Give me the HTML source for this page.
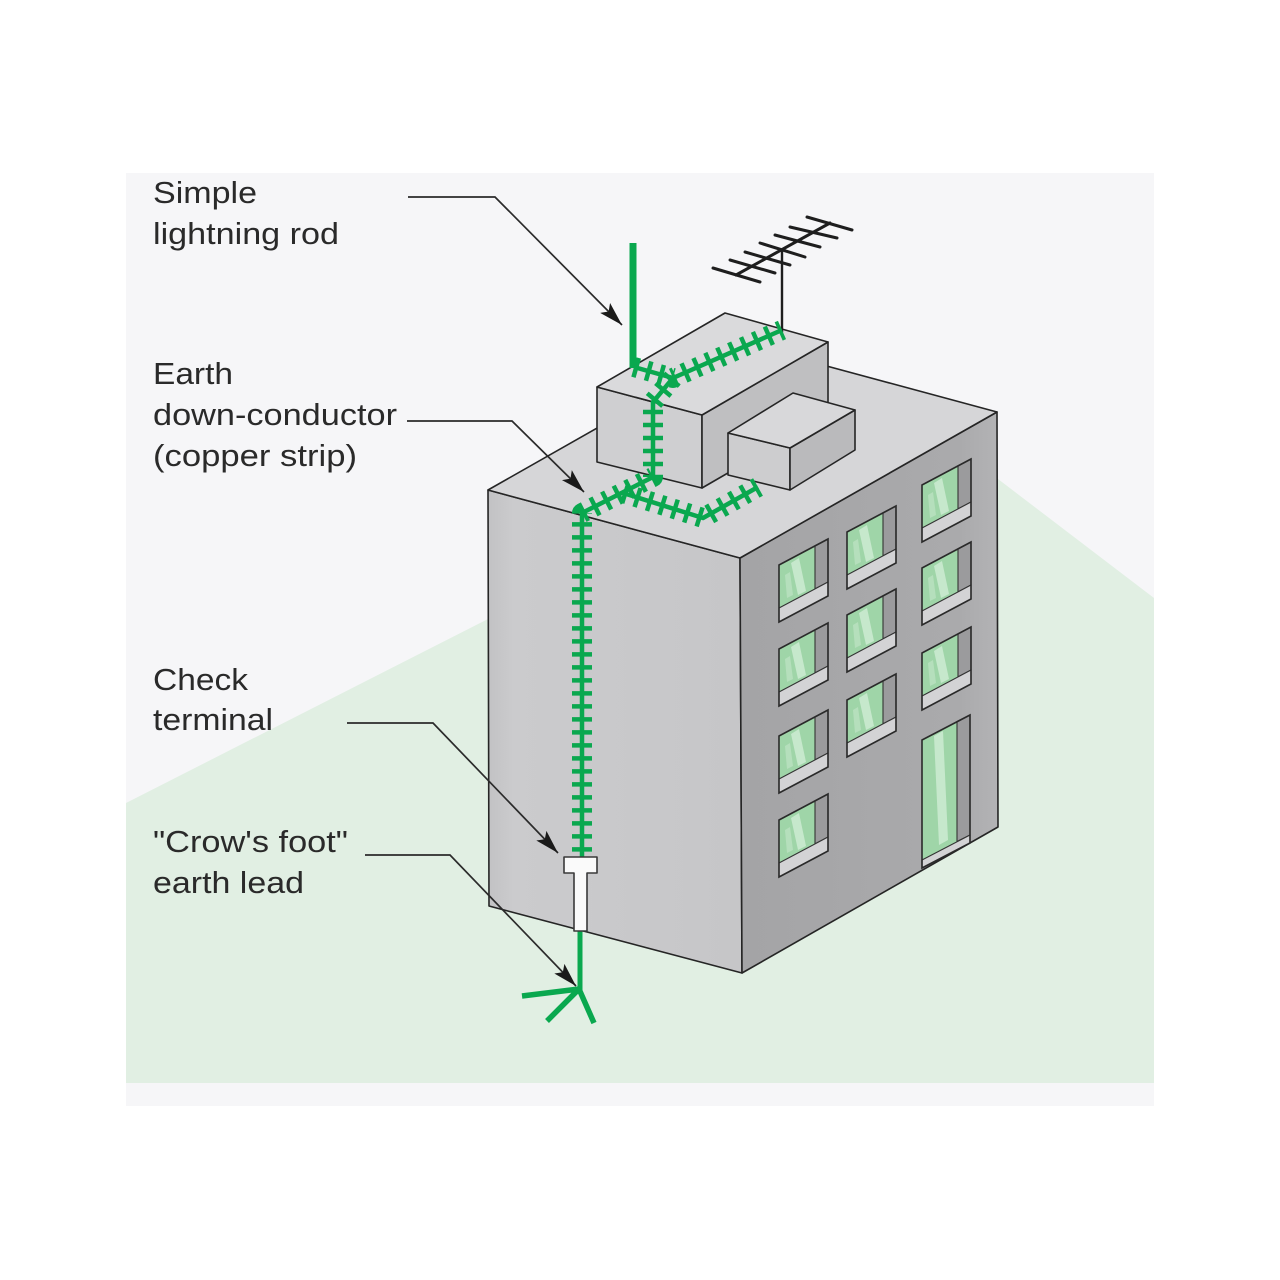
<!DOCTYPE html>
<html><head><meta charset="utf-8"><style>
html,body{margin:0;padding:0;background:#fff;}
svg{display:block;}
</style></head><body>
<svg width="1280" height="1280" viewBox="0 0 1280 1280" xmlns="http://www.w3.org/2000/svg">
<defs>
<linearGradient id="gl" x1="0" y1="0" x2="1" y2="0">
<stop offset="0" stop-color="#c2c2c4"/><stop offset="0.1" stop-color="#cbcbcd"/><stop offset="1" stop-color="#c6c6c8"/>
</linearGradient>
<linearGradient id="gr" x1="0" y1="0" x2="1" y2="0">
<stop offset="0" stop-color="#a4a4a6"/><stop offset="0.85" stop-color="#aaaaac"/><stop offset="1" stop-color="#b3b3b5"/>
</linearGradient>
<g id="win">
<polygon points="0,0 49,-26 49,31 0,57" fill="#a9a9ab"/>
<polygon points="0,0 36,-19.1 36,23.9 0,43" fill="#9fd5a8"/>
<polygon points="12,-2 20,-7 27,26 19,30" fill="#cdebd2" opacity="0.85"/>
<polygon points="6,10 11,7 14,30 8,33" fill="#c4e6ca" opacity="0.6"/>
<polygon points="36,-19.1 49,-26 49,17 36,23.9" fill="#9b9b9d" stroke="#333" stroke-width="1.1"/>
<polygon points="0,43 49,17 49,31 0,57" fill="#d3d3d5" stroke="#333" stroke-width="1.1"/>
<polygon points="0,0 49,-26 49,31 0,57" fill="none" stroke="#2a2a2a" stroke-width="1.6"/>
</g>
<marker id="ah" markerWidth="26" markerHeight="16" refX="24" refY="8" orient="auto" markerUnits="userSpaceOnUse">
<path d="M0,1 L24,8 L0,15 L5,8 z" fill="#1a1a1a"/>
</marker>
</defs>

<!-- background panel -->
<rect x="126" y="173" width="1028" height="933" fill="#f6f6f8"/>
<polygon points="126,803 488,619 998,479 1154,598 1154,1083 126,1083" fill="#e1efe3"/>

<!-- building -->
<polygon points="488,490 740,558 742,973 489,906" fill="url(#gl)" stroke="#252525" stroke-width="1.6" stroke-linejoin="round"/>
<polygon points="740,558 997,412 998,827 742,973" fill="url(#gr)" stroke="#252525" stroke-width="1.6" stroke-linejoin="round"/>
<polygon points="488,490 745,344 997,412 740,558" fill="#d6d6d8" stroke="#252525" stroke-width="1.6" stroke-linejoin="round"/>

<!-- penthouse big -->
<polygon points="597,387 702,415 702,488 597,462" fill="#cfcfd1" stroke="#252525" stroke-width="1.6" stroke-linejoin="round"/>
<polygon points="702,415 828,342 828,415 702,488" fill="#bfbfc1" stroke="#252525" stroke-width="1.6" stroke-linejoin="round"/>
<polygon points="597,387 725,313 828,342 702,415" fill="#dadadc" stroke="#252525" stroke-width="1.6" stroke-linejoin="round"/>
<!-- small box -->
<polygon points="728,433 790,448 790,490 728,475" fill="#cdcdcf" stroke="#252525" stroke-width="1.6" stroke-linejoin="round"/>
<polygon points="790,448 855,410 855,450 790,490" fill="#bababc" stroke="#252525" stroke-width="1.6" stroke-linejoin="round"/>
<polygon points="728,433 793,393 855,410 790,448" fill="#d8d8da" stroke="#252525" stroke-width="1.6" stroke-linejoin="round"/>

<!-- windows -->
<use href="#win" x="779" y="565"/>
<use href="#win" x="779" y="649"/>
<use href="#win" x="779" y="736"/>
<use href="#win" x="779" y="820"/>
<use href="#win" x="847" y="532"/>
<use href="#win" x="847" y="615"/>
<use href="#win" x="847" y="700"/>
<use href="#win" x="922" y="485"/>
<use href="#win" x="922" y="568"/>
<use href="#win" x="922" y="653"/>
<!-- door -->
<g transform="translate(922,740)">
<polygon points="0,0 48,-25 48,103 0,128" fill="#a9a9ab"/>
<polygon points="0,0 35,-18.5 35,101.5 0,120" fill="#9fd5a8"/>
<polygon points="12,-4 21,-9 26,100 17,105" fill="#cdebd2" opacity="0.85"/>
<polygon points="35,-18.5 48,-25 48,95 35,101.5" fill="#9b9b9d" stroke="#333" stroke-width="1.1"/>
<polygon points="0,120 48,95 48,103 0,128" fill="#d3d3d5" stroke="#333" stroke-width="1.1"/>
<polygon points="0,0 48,-25 48,103 0,128" fill="none" stroke="#2a2a2a" stroke-width="1.6"/>
</g>

<!-- antenna -->
<g stroke="#1e1e1e" stroke-width="3" stroke-linecap="round">
<line x1="782" y1="252" x2="782" y2="332" stroke-width="2.4"/>
<line x1="736" y1="275" x2="830" y2="223"/>
<line x1="713" y1="268" x2="760" y2="282"/>
<line x1="730" y1="260" x2="775" y2="273"/>
<line x1="745" y1="252" x2="790" y2="265"/>
<line x1="760" y1="243" x2="805" y2="257"/>
<line x1="775" y1="235" x2="820" y2="247"/>
<line x1="790" y1="227" x2="837" y2="238"/>
<line x1="807" y1="217" x2="852" y2="230"/>
</g>

<!-- lightning rod + conductor -->
<g fill="none" stroke="#0aa84f" stroke-linejoin="round">
<line x1="633" y1="243" x2="633" y2="368" stroke-width="7"/>
<path d="M634,367 L673,378 L782,330 M673,378 L653,402 L653,477 L582,513 L582,858 M623,493 L703,518 L758,487" stroke-width="4.5"/>
<path d="M634,367 L673,378 L782,330 M673,378 L653,402 L653,477 L582,513 L582,858 M623,493 L703,518 L758,487" stroke-width="20" stroke-dasharray="4.5 8.5"/>
<line x1="580" y1="928" x2="580" y2="990" stroke-width="5"/>
<path d="M579,989 L522,996 M579,989 L547,1021 M579,989 L594,1023" stroke-width="5.5"/>
</g>

<!-- check terminal -->
<polygon points="564,857 597,857 597,873 587,873 587,931 574,931 574,873 564,873" fill="#fafafa" stroke="#3a3a3a" stroke-width="1.6" stroke-linejoin="round"/>

<!-- leader arrows -->
<g fill="none" stroke="#2b2b2b" stroke-width="1.7" marker-end="url(#ah)">
<polyline points="408,197 495,197 622,325"/>
<polyline points="407,421 512,421 584,492"/>
<polyline points="347,723 433,723 558,853"/>
<polyline points="365,855 450,855 576,986"/>
</g>

<!-- labels -->
<g font-family="'Liberation Sans', Arial, sans-serif" font-size="31" fill="#2a2a2a">
<text x="153" y="203" textLength="104" lengthAdjust="spacingAndGlyphs">Simple</text>
<text x="153" y="244" textLength="186" lengthAdjust="spacingAndGlyphs">lightning rod</text>
<text x="153" y="384" textLength="80" lengthAdjust="spacingAndGlyphs">Earth</text>
<text x="153" y="425" textLength="244" lengthAdjust="spacingAndGlyphs">down-conductor</text>
<text x="153" y="466" textLength="204" lengthAdjust="spacingAndGlyphs">(copper strip)</text>
<text x="153" y="690" textLength="95" lengthAdjust="spacingAndGlyphs">Check</text>
<text x="153" y="730" textLength="120" lengthAdjust="spacingAndGlyphs">terminal</text>
<text x="153" y="852" textLength="195" lengthAdjust="spacingAndGlyphs">"Crow's foot"</text>
<text x="153" y="893" textLength="151" lengthAdjust="spacingAndGlyphs">earth lead</text>
</g>
</svg>
</body></html>
